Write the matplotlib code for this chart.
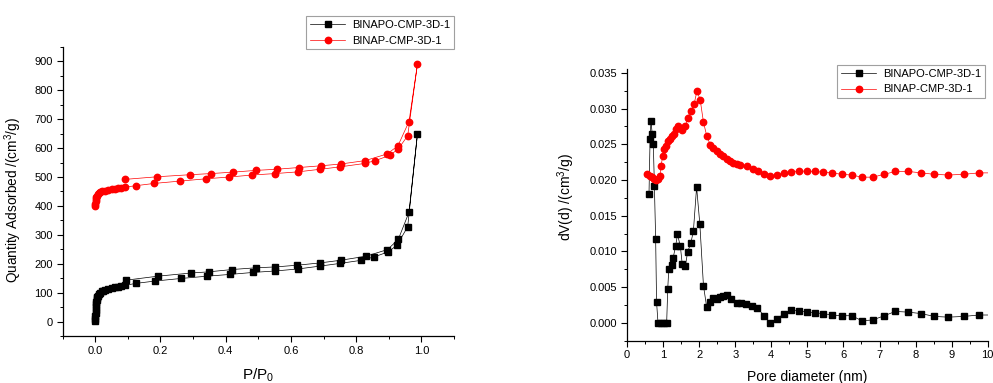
import matplotlib
matplotlib.use("Agg")
import matplotlib.pyplot as plt
from matplotlib.ticker import MultipleLocator

plt.rcParams['font.family'] = ['Liberation Sans', 'DejaVu Sans']
plt.rcParams['mathtext.fontset'] = 'custom'
plt.rcParams['mathtext.rm'] = 'Liberation Sans'
plt.rcParams['mathtext.it'] = 'Liberation Sans:italic'

# N2 isotherms (adsorption then desorption branch)
p_binapo = [0.0002, 0.0004, 0.0006, 0.0008, 0.001, 0.0015, 0.002, 0.003, 0.004,
            0.005, 0.006, 0.008, 0.01, 0.015, 0.02, 0.025, 0.03, 0.04, 0.05, 0.06,
            0.07, 0.08, 0.09, 0.124, 0.182, 0.262, 0.343, 0.412, 0.484, 0.552,
            0.622, 0.690, 0.749, 0.816, 0.856, 0.898, 0.925, 0.958, 0.988,
            0.962, 0.929, 0.896, 0.830, 0.752, 0.690, 0.620, 0.552, 0.492, 0.419,
            0.348, 0.294, 0.192, 0.093]
q_binapo = [2, 10, 20, 30, 40, 50, 60, 68, 75,
            80, 85, 90, 95, 100, 104, 107, 110, 114, 117, 119,
            121, 123, 125, 132, 140, 149, 157, 163, 170, 175,
            182, 192, 201, 212, 224, 241, 264, 328, 650,
            378, 284, 249, 226, 212, 203, 195, 189, 186, 180,
            172, 168, 157, 143]

p_binap = [0.0002, 0.0005, 0.001, 0.002, 0.003, 0.005, 0.007, 0.01, 0.015, 0.02,
           0.03, 0.04, 0.05, 0.06, 0.07, 0.08, 0.09, 0.124, 0.181, 0.260, 0.340,
           0.410, 0.481, 0.551, 0.622, 0.690, 0.749, 0.826, 0.859, 0.903, 0.929,
           0.958, 0.988,
           0.962, 0.928, 0.895, 0.828, 0.752, 0.692, 0.625, 0.556, 0.492, 0.422,
           0.354, 0.289, 0.190, 0.092]
q_binap = [400, 408, 416, 424, 430, 436, 440, 445, 448, 450,
           453, 455, 457, 459, 461, 463, 465, 470, 478, 486, 494,
           500, 507, 512, 518, 527, 535, 547, 557, 575, 597,
           643, 891,
           692, 608, 580, 557, 545, 539, 533, 527, 523, 517,
           512, 508, 501, 492]

# Pore size distributions
d_binapo = [0.61, 0.64, 0.665, 0.70, 0.73, 0.76, 0.795, 0.82, 0.86, 0.94, 1.03, 1.10,
            1.13, 1.16, 1.24, 1.28, 1.35, 1.40, 1.48, 1.53, 1.62, 1.68, 1.77, 1.84,
            1.93, 2.02, 2.12, 2.21, 2.31, 2.39, 2.49, 2.59, 2.67, 2.77, 2.88, 3.04,
            3.17, 3.30, 3.46, 3.61, 3.80, 3.96, 4.15, 4.34, 4.54, 4.76, 4.98, 5.21,
            5.44, 5.68, 5.95, 6.23, 6.51, 6.81, 7.13, 7.44, 7.80, 8.15, 8.52, 8.91,
            9.33, 9.76, 10.2]
dv_binapo = [0.0180, 0.0257, 0.0283, 0.0264, 0.0251, 0.0192, 0.0117, 0.0029, 0.0, 0.0,
             0.0, 0.0, 0.0048, 0.0076, 0.0081, 0.0091, 0.0108, 0.0124, 0.0107, 0.0083,
             0.0080, 0.0099, 0.0112, 0.0128, 0.0190, 0.0138, 0.0052, 0.0022, 0.0029,
             0.0035, 0.0034, 0.0036, 0.0038, 0.0039, 0.0034, 0.0028, 0.0028, 0.0026,
             0.0023, 0.0021, 0.0010, 0.0, 0.0006, 0.0012, 0.0018, 0.0017, 0.0015,
             0.0014, 0.0013, 0.0011, 0.0010, 0.0010, 0.0003, 0.0004, 0.0010, 0.0016,
             0.0015, 0.0013, 0.0009, 0.0008, 0.0009, 0.0011, 0.0011]

d_binap = [0.56, 0.64, 0.70, 0.76, 0.80, 0.85, 0.915, 0.94, 0.99, 1.04, 1.08, 1.15,
           1.19, 1.26, 1.30, 1.36, 1.42, 1.53, 1.62, 1.68, 1.77, 1.86, 1.94, 2.03,
           2.12, 2.21, 2.31, 2.39, 2.49, 2.58, 2.67, 2.76, 2.86, 2.95, 3.05, 3.14,
           3.32, 3.50, 3.62, 3.80, 3.97, 4.15, 4.34, 4.54, 4.76, 4.98, 5.21, 5.44,
           5.68, 5.95, 6.23, 6.51, 6.81, 7.13, 7.44, 7.80, 8.15, 8.52, 8.91, 9.33,
           9.76, 10.2]
dv_binap = [0.0208, 0.0206, 0.0204, 0.0202, 0.0200, 0.0201, 0.0205, 0.0219, 0.0233,
            0.0243, 0.0248, 0.0255, 0.0257, 0.0261, 0.0265, 0.0271, 0.0275, 0.0270,
            0.0275, 0.0287, 0.0297, 0.0306, 0.0325, 0.0312, 0.0281, 0.0262, 0.0249,
            0.0245, 0.0240, 0.0236, 0.0233, 0.0230, 0.0227, 0.0224, 0.0222, 0.0221,
            0.0219, 0.0215, 0.0213, 0.0208, 0.0205, 0.0207, 0.0210, 0.0211, 0.0213,
            0.0212, 0.0212, 0.0211, 0.0210, 0.0208, 0.0207, 0.0204, 0.0204, 0.0208,
            0.0212, 0.0212, 0.0210, 0.0208, 0.0207, 0.0208, 0.0210, 0.0210]

label_o = 'BINAPO-CMP-3D-1'
label_p = 'BINAP-CMP-3D-1'

fig = plt.figure(figsize=(9.93, 3.83), dpi=100)
ax1 = fig.add_axes([0.0631, 0.1227, 0.3941, 0.7546])
ax2 = fig.add_axes([0.6314, 0.1104, 0.3633, 0.7086])

ax1.plot(p_binapo, q_binapo, '-s', color='black', lw=0.5, ms=4.2, label=label_o)
ax1.plot(p_binap, q_binap, '-o', color='red', lw=0.5, ms=4.6, label=label_p)
ax2.plot(d_binapo, dv_binapo, '-s', color='black', lw=0.5, ms=4.2, label=label_o)
ax2.plot(d_binap, dv_binap, '-o', color='red', lw=0.5, ms=4.6, label=label_p)

ax1.set_xlim(-0.1, 1.1)
ax1.set_ylim(-50, 950)
ax1.xaxis.set_minor_locator(MultipleLocator(0.1))
ax1.yaxis.set_minor_locator(MultipleLocator(50))
ax1.set_xticks([0.0, 0.2, 0.4, 0.6, 0.8, 1.0])
ax1.set_xticklabels(['0.0', '0.2', '0.4', '0.6', '0.8', '1.0'])
ax1.set_yticks(range(0, 1000, 100))

ax2.set_xlim(0, 10)
ax2.set_ylim(-0.0025, 0.0355)
ax2.xaxis.set_major_locator(MultipleLocator(1))
ax2.xaxis.set_minor_locator(MultipleLocator(0.5))
ax2.set_yticks([0.0, 0.005, 0.010, 0.015, 0.020, 0.025, 0.030, 0.035])
ax2.set_yticklabels(['0.000', '0.005', '0.010', '0.015', '0.020', '0.025',
                     '0.030', '0.035'])
ax2.yaxis.set_minor_locator(MultipleLocator(0.0025))

for ax in (ax1, ax2):
    ax.spines['top'].set_visible(False)
    ax.spines['right'].set_visible(False)
    ax.spines['left'].set_linewidth(0.9)
    ax.spines['bottom'].set_linewidth(0.9)
    ax.tick_params(which='major', direction='out', length=4, width=0.8,
                   labelsize=8, pad=3)
    ax.tick_params(which='minor', direction='out', length=2.2, width=0.7)

ax1.set_xlabel('P/P$_0$', fontsize=11)
ax1.xaxis.set_label_coords(0.5, -0.107)
ax1.set_ylabel('Quantity Adsorbed /(cm$^3$/g)', fontsize=9.8)
ax1.yaxis.set_label_coords(-0.099, 0.47)

ax2.set_xlabel('Pore diameter (nm)', fontsize=10)
ax2.xaxis.set_label_coords(0.5, -0.108)
ax2.set_ylabel('dV(d) /(cm$^3$/g)', fontsize=10)
ax2.yaxis.set_label_coords(-0.139, 0.53)

for ax, anchor in ((ax1, (1.0, 1.107)), (ax2, (0.9925, 1.016))):
    leg = ax.legend(loc='upper right', bbox_to_anchor=anchor, borderaxespad=0,
                    fontsize=8, fancybox=False, handlelength=3.2,
                    labelspacing=0.5, borderpad=0.35, handletextpad=0.6)
    leg.get_frame().set_edgecolor('#888888')
    leg.get_frame().set_linewidth(0.8)

fig.savefig('out.png', dpi=100)
